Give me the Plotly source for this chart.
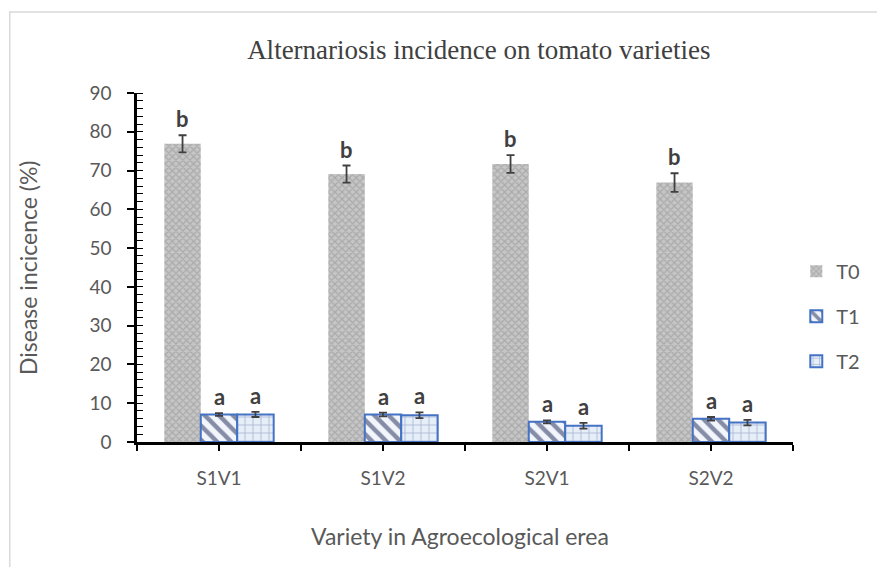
import plotly.graph_objects as go

categories = ["S1V1", "S1V2", "S2V1", "S2V2"]
series_names = ["T0", "T1", "T2"]
t0 = [76.9, 69.1, 71.7, 66.9]
t1 = [7.1, 7.1, 5.2, 6.0]
t2 = [7.1, 6.9, 4.2, 5.0]
t0_err = [2.2, 2.2, 2.3, 2.4]
t1_err = [0.35, 0.5, 0.4, 0.45]
t2_err = [0.65, 0.75, 0.75, 0.7]
t0_letters = ["b", "b", "b", "b"]
t1_letters = ["a", "a", "a", "a"]
t2_letters = ["a", "a", "a", "a"]
y_ticks = [0, 10, 20, 30, 40, 50, 60, 70, 80, 90]

xs = list(range(len(categories)))
GRAY_TXT = "#595959"
FONT = "Lato"

styles = [
    dict(color="#B4B4B4", pattern=dict(shape="x", fgcolor="#8E8E8E", bgcolor="#C6C6C6", size=5, solidity=0.45),
         line=dict(color="#B4B4B4", width=0)),
    dict(color="#FFFFFF", pattern=dict(shape="\\", fgcolor="#18224F", bgcolor="#F2F6FC", size=10, solidity=0.45),
         line=dict(color="#4472C4", width=2)),
    dict(color="#FFFFFF", pattern=dict(shape="+", fgcolor="#6F80B5", bgcolor="#E6EEF8", size=8, solidity=0.2),
         line=dict(color="#4472C4", width=2)),
]

vals = [t0, t1, t2]
errs = [t0_err, t1_err, t2_err]
letters = [t0_letters, t1_letters, t2_letters]

fig = go.Figure()
for i, name in enumerate(series_names):
    fig.add_trace(go.Bar(
        x=xs, y=vals[i], name=name, marker=styles[i], legendgroup=name,
        error_y=dict(type="data", array=errs[i], color="#404040", thickness=1.8, width=4),
    ))

bar_w = (1 - 0.333) / 3
annotations = []
for i in range(3):
    off = (i - 1) * bar_w
    for j, x in enumerate(xs):
        annotations.append(dict(
            x=x + off, y=vals[i][j] + errs[i][j], xref="x", yref="y",
            text="<b>%s</b>" % letters[i][j], showarrow=False, yanchor="bottom", yshift=1,
            font=dict(family=FONT, size=22, color="#404040"),
        ))

annotations.append(dict(
    x=-0.167, y=0.5, xref="paper", yref="paper", text="Disease incicence (%)", textangle=-90,
    showarrow=False, font=dict(family=FONT, size=23, color=GRAY_TXT), xanchor="center", yanchor="middle"))
annotations.append(dict(
    x=0.492, y=-0.27, xref="paper", yref="paper", text="Variety in Agroecological erea",
    showarrow=False, font=dict(family=FONT, size=23, color=GRAY_TXT), xanchor="center", yanchor="middle"))

tickvals = [v * 0.5 - 0.5 for v in range(2 * len(categories) + 1)]
ticktext = []
for v in tickvals:
    ticktext.append(categories[int(v)] if float(v).is_integer() and 0 <= v < len(categories) else "")

fig.update_layout(
    width=885, height=567,
    margin=dict(l=129, r=100, t=85, b=133),
    paper_bgcolor="white", plot_bgcolor="white",
    barmode="group", bargap=0.333, bargroupgap=0,
    title=dict(text="Alternariosis incidence on tomato varieties", x=0.532, xanchor="center", y=0.926, yanchor="middle",
               font=dict(family="Liberation Serif", size=27, color="#404040")),
    legend=dict(x=1.005, y=0.36, xanchor="left", yanchor="middle", tracegroupgap=16,
                font=dict(family=FONT, size=20, color=GRAY_TXT), itemwidth=30),
    annotations=annotations,
    shapes=[dict(type="rect", xref="paper", yref="paper", x0=-0.194, x1=1.3, y0=-0.5, y1=1.232,
                 line=dict(color="#D9D9D9", width=1.5), fillcolor="rgba(0,0,0,0)", layer="below")],
    xaxis=dict(range=[-0.5, 3.5], tickvals=tickvals, ticktext=ticktext, showline=True, linecolor="black",
               linewidth=2.5, ticks="outside", ticklen=6, tickwidth=1.5, tickcolor="black",
               showgrid=False, zeroline=False, ticklabelstandoff=11,
               tickfont=dict(family=FONT, size=19, color=GRAY_TXT)),
    yaxis=dict(range=[0, 90], tickvals=y_ticks, showline=True, linecolor="black", linewidth=2.5,
               ticks="outside", ticklen=7, tickwidth=1.5, tickcolor="black", showgrid=False, zeroline=False,
               ticklabelstandoff=12, tickfont=dict(family=FONT, size=19, color=GRAY_TXT),
               minor=dict(dtick=2, ticks="inside", ticklen=6, tickwidth=1.2, tickcolor="black", showgrid=False)),
)

fig.write_html("out.html")
